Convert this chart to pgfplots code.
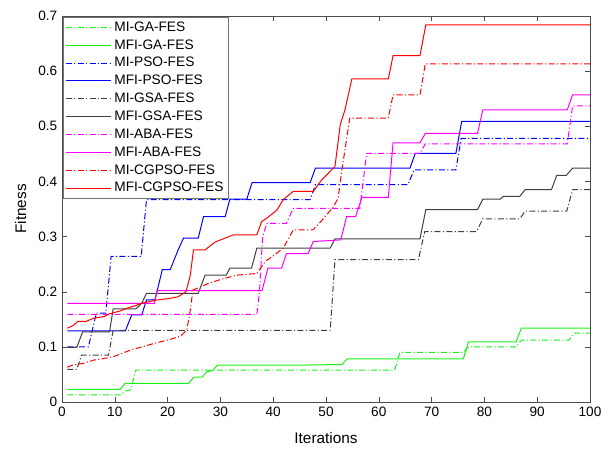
\documentclass[border=0pt]{standalone}
\usepackage{pgfplots}
\pgfplotsset{compat=1.18}
\usepackage{fontspec}
\setmainfont{Liberation Sans}
\begin{document}
\begin{tikzpicture}
\tikzset{dd/.style={dash pattern=on 4.5pt off 1.8pt on 0.8pt off 1.8pt}}
\definecolor{gsa}{rgb}{0.25,0.25,0.25}
\definecolor{cg}{rgb}{0.1,0.95,0.1}
\definecolor{cb}{rgb}{0,0,1}
\definecolor{cm}{rgb}{1,0,1}
\definecolor{cr}{rgb}{1,0,0}
\begin{axis}[
  scale only axis, width=396pt, height=289.5pt,
  xmin=0, xmax=100, ymin=0, ymax=0.7,
  xtick={0,10,20,30,40,50,60,70,80,90,100},
  ytick={0,0.1,0.2,0.3,0.4,0.5,0.6,0.7},
  yticklabel style={/pgf/number format/fixed,/pgf/number format/precision=1},
  /pgf/number format/assume math mode=true,
  tick align=inside, tick pos=both, major tick length=4pt,
  ticklabel style={font=\fontsize{10.2}{12}\selectfont},
  xlabel={Iterations}, ylabel={Fitness},
  label style={font=\fontsize{11.5}{13}\selectfont},
  xlabel style={at={(axis description cs:0.5,-0.094)}, anchor=center},
  ylabel style={at={(axis description cs:-0.0785,0.5)}, anchor=center},
  axis line style={black!70}, tick style={black!70},
  every axis plot/.append style={line width=0.75pt},
  legend style={at={(0,1)}, anchor=north west, xshift=0.8pt, yshift=-0.8pt,
    font=\fontsize{10.3}{12}\selectfont, draw=black!55, fill=white,
    inner xsep=1.5pt, inner ysep=1.2pt, row sep=0.7pt},
  legend cell align=left,
  legend image code/.code={\draw[#1] (0pt,0pt) -- (34pt,0pt);},
]
\addplot[draw=cg, dd] coordinates {(1,0.013) (11,0.013) (12,0.02) (13,0.022) (14,0.058) (63,0.058) (64,0.09) (76,0.09) (77,0.1) (86,0.1) (87,0.112) (96,0.112) (97,0.125) (100,0.125)};
\addlegendentry{MI-GA-FES}
\addplot[draw=cg] coordinates {(1,0.023) (11,0.023) (12,0.034) (24,0.034) (25,0.045) (26.5,0.045) (27.5,0.055) (28.5,0.057) (29.5,0.067) (46,0.067) (53,0.068) (54,0.078) (76,0.078) (77,0.109) (86,0.109) (87,0.134) (100,0.134)};
\addlegendentry{MFI-GA-FES}
\addplot[draw=cb, dd] coordinates {(1,0.1) (5,0.1) (6.5,0.161) (8.3,0.161) (9.3,0.264) (15,0.264) (16,0.367) (47,0.367) (48,0.394) (65.5,0.394) (66.7,0.421) (74.6,0.421) (75.6,0.478) (100,0.478)};
\addlegendentry{MI-PSO-FES}
\addplot[draw=cb] coordinates {(1,0.129) (12,0.129) (13.2,0.158) (15.1,0.158) (16,0.185) (17.6,0.185) (19,0.24) (20.5,0.24) (22,0.276) (23,0.297) (25.8,0.297) (26.8,0.336) (30.9,0.336) (31.8,0.368) (35,0.368) (36,0.398) (47,0.398) (48,0.424) (65.9,0.424) (66.9,0.451) (74.6,0.451) (75.7,0.509) (100,0.509)};
\addlegendentry{MFI-PSO-FES}
\addplot[draw=gsa, dd] coordinates {(1,0.059) (2.8,0.059) (3.7,0.085) (8.8,0.085) (9.7,0.13) (50.8,0.13) (51.7,0.258) (67.5,0.258) (68.7,0.309) (78.5,0.309) (79.7,0.332) (86.7,0.332) (87.7,0.346) (95.6,0.346) (96.7,0.385) (100,0.385)};
\addlegendentry{MI-GSA-FES}
\addplot[draw=gsa] coordinates {(1,0.099) (2.8,0.099) (3.9,0.127) (9,0.127) (9.7,0.169) (14,0.169) (15.1,0.179) (16,0.197) (25.8,0.197) (27.1,0.23) (31.1,0.23) (31.8,0.243) (35.9,0.243) (36.9,0.279) (50.8,0.279) (51.7,0.296) (67.8,0.296) (68.9,0.349) (78.7,0.349) (79.7,0.368) (83,0.368) (83.6,0.373) (86.7,0.373) (87.7,0.385) (92.7,0.385) (93.7,0.411) (95.5,0.411) (96.7,0.424) (100,0.424)};
\addlegendentry{MFI-GSA-FES}
\addplot[draw=cm, dd] coordinates {(1,0.159) (36.9,0.159) (37.4,0.2) (38,0.3) (38.8,0.324) (42.5,0.324) (43.8,0.351) (56.4,0.351) (57.7,0.451) (67.8,0.451) (68.8,0.468) (95.7,0.468) (96.7,0.537) (100,0.537)};
\addlegendentry{MI-ABA-FES}
\addplot[draw=cm] coordinates {(1,0.179) (17.5,0.179) (18,0.202) (37.9,0.202) (39,0.243) (41.6,0.243) (42.5,0.269) (46.6,0.269) (47.6,0.291) (52.8,0.294) (53.9,0.336) (55.6,0.336) (56.8,0.371) (61.8,0.371) (62.7,0.47) (67.8,0.47) (68.8,0.487) (78.7,0.487) (79.7,0.53) (95.7,0.53) (96.7,0.557) (100,0.557)};
\addlegendentry{MFI-ABA-FES}
\addplot[draw=cr, dd] coordinates {(1,0.063) (2,0.067) (4,0.07) (6,0.076) (8,0.079) (10,0.083) (11.3,0.088) (13.2,0.095) (14.8,0.099) (17,0.105) (19,0.11) (21,0.115) (22.5,0.12) (23.6,0.13) (24.2,0.16) (24.8,0.203) (26,0.208) (28,0.216) (30,0.222) (33,0.23) (36.9,0.233) (38.5,0.255) (40,0.265) (41.9,0.279) (43.8,0.312) (47.5,0.312) (49,0.327) (51.4,0.354) (52.3,0.37) (53,0.42) (54.5,0.515) (61.8,0.515) (62.7,0.557) (67.8,0.557) (68.8,0.613) (100,0.613)};
\addlegendentry{MI-CGPSO-FES}
\addplot[draw=cr] coordinates {(1,0.134) (2,0.138) (3,0.146) (4.5,0.146) (6,0.152) (8,0.155) (9,0.16) (11,0.165) (12.3,0.17) (14,0.175) (15,0.179) (17,0.183) (18,0.185) (20.5,0.188) (22,0.191) (23.5,0.2) (24.3,0.23) (24.9,0.276) (27.1,0.276) (29,0.29) (32.4,0.303) (36.9,0.303) (37.8,0.327) (39,0.335) (40.7,0.348) (41.9,0.367) (43.8,0.382) (47.6,0.382) (48.5,0.394) (49.2,0.403) (51.7,0.427) (52.7,0.503) (53.6,0.53) (54.9,0.586) (61.8,0.586) (62.7,0.628) (67.8,0.628) (68.9,0.684) (100,0.684)};
\addlegendentry{MFI-CGPSO-FES}
\end{axis}
\pgfresetboundingbox
\path[use as bounding box] (-46.5pt,-36.75pt) rectangle (411pt,301.5pt);
\end{tikzpicture}
\end{document}
